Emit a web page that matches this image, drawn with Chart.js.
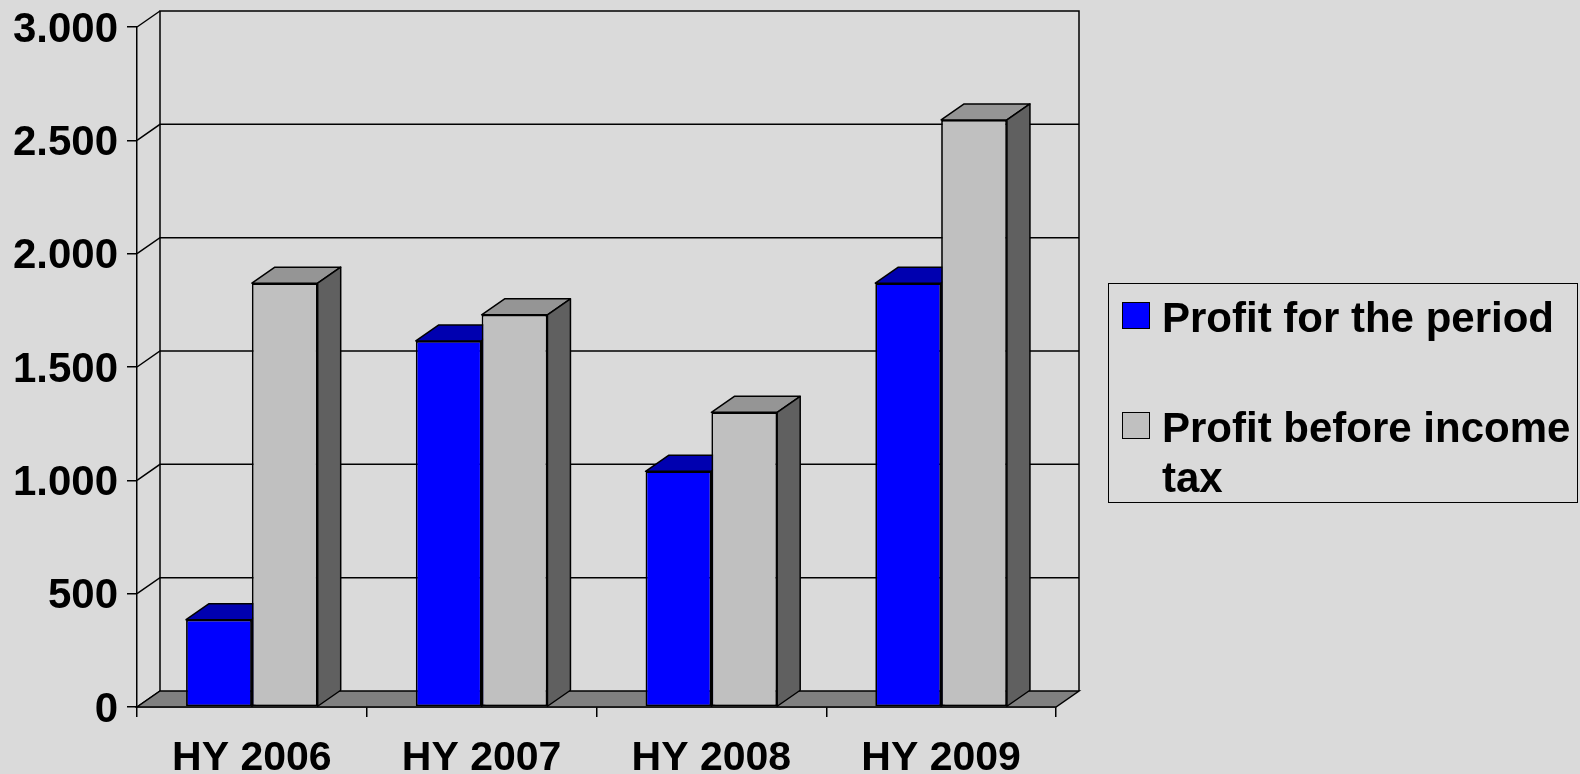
<!DOCTYPE html>
<html>
<head>
<meta charset="utf-8">
<script src="https://cdn.jsdelivr.net/npm/chart.js@4"></script>
<style>
  html, body { margin: 0; padding: 0; background: #dadada; }
  #wrap { position: relative; width: 1580px; height: 774px; }
  #legend {
    position: absolute; left: 1108px; top: 283px; width: 468px; height: 218px;
    border: 1.5px solid #000; font: bold 42px 'Liberation Sans', Arial, sans-serif; color: #000;
  }
  .item { position: absolute; left: 0; }
  .sw { position: absolute; left: 13px; width: 26px; height: 25px; border: 1.5px solid #000; }
  .txt { position: absolute; left: 53px; width: 414px; line-height: 50px; }
</style>
</head>
<body>
<div id="wrap">
  <canvas id="c" width="1580" height="774"></canvas>
  <div id="legend"></div>
</div>
<script>
const categories = ['HY 2006', 'HY 2007', 'HY 2008', 'HY 2009'];
const profitPeriod = [385, 1615, 1040, 1870];
const profitBeforeTax = [1870, 1730, 1300, 2590];
const seriesNames = ['Profit for the period', 'Profit before income tax'];
const yTicks = [0, 500, 1000, 1500, 2000, 2500, 3000];
const yTickLabels = ['0', '500', '1.000', '1.500', '2.000', '2.500', '3.000'];

const FONT = "'Liberation Sans', Arial, sans-serif";
const DX = 23, DY = 16;
const faces = [
  { front: '#0000ff', top: '#0000b0', side: '#000080' },
  { front: '#c0c0c0', top: '#959595', side: '#606060' }
];

function poly(ctx, pts, fill) {
  ctx.beginPath();
  ctx.moveTo(pts[0][0], pts[0][1]);
  for (let i = 1; i < pts.length; i++) ctx.lineTo(pts[i][0], pts[i][1]);
  ctx.closePath();
  if (fill) { ctx.fillStyle = fill; ctx.fill(); }
  ctx.stroke();
}

const box3d = {
  id: 'box3d',
  beforeDatasetsDraw(chart) {
    const ctx = chart.ctx, a = chart.chartArea, y = chart.scales.y;
    ctx.save();
    ctx.strokeStyle = '#000';
    ctx.lineWidth = 1.5;
    // back wall + grid
    ctx.beginPath();
    ctx.moveTo(a.left + DX, a.bottom - DY);
    ctx.lineTo(a.left + DX, a.top - DY);
    ctx.lineTo(a.right + DX, a.top - DY);
    ctx.lineTo(a.right + DX, a.bottom - DY);
    ctx.stroke();
    yTicks.forEach(v => {
      const py = y.getPixelForValue(v);
      ctx.beginPath();
      ctx.moveTo(a.left, py);
      ctx.lineTo(a.left + DX, py - DY);
      if (v > 0 && v < 3000) ctx.lineTo(a.right + DX, py - DY);
      ctx.stroke();
    });
    // floor
    poly(ctx, [[a.left, a.bottom], [a.right, a.bottom], [a.right + DX, a.bottom - DY], [a.left + DX, a.bottom - DY]], '#808080');
    ctx.restore();
  },
  // bars are drawn below, series by series, so the front faces hide the sides correctly
  beforeDatasetDraw() { return false; },
  afterDatasetsDraw(chart) {
    const ctx = chart.ctx;
    ctx.save();
    ctx.lineJoin = 'round';
    chart.data.datasets.forEach((ds, di) => {
      const f = faces[di];
      chart.getDatasetMeta(di).data.forEach(bar => {
        bar.draw(ctx);
        const x0 = bar.x - bar.width / 2, x1 = bar.x + bar.width / 2;
        const t = bar.y, b = bar.base;
        ctx.strokeStyle = '#000';
        ctx.lineWidth = 1.5;
        poly(ctx, [[x0, t], [x1, t], [x1 + DX, t - DY], [x0 + DX, t - DY]], f.top);
        poly(ctx, [[x1, t], [x1 + DX, t - DY], [x1 + DX, b - DY], [x1, b]], f.side);
      });
    });
    ctx.restore();
  }
};

new Chart(document.getElementById('c'), {
  type: 'bar',
  data: {
    labels: categories,
    datasets: [
      { label: seriesNames[0], data: profitPeriod, backgroundColor: faces[0].front },
      { label: seriesNames[1], data: profitBeforeTax, backgroundColor: faces[1].front }
    ]
  },
  options: {
    responsive: false,
    animation: false,
    devicePixelRatio: 1,
    layout: { padding: { left: 0, top: 27, right: 524, bottom: 0 } },
    datasets: {
      bar: {
        categoryPercentage: 0.573, barPercentage: 1.0,
        borderColor: '#000', borderWidth: 1.75, borderSkipped: false
      }
    },
    plugins: { legend: { display: false }, tooltip: { enabled: false } },
    scales: {
      x: {
        grid: { drawOnChartArea: false, drawTicks: true, tickLength: 10, color: '#000', lineWidth: 1.5 },
        border: { display: true, color: '#000', width: 1.5 },
        ticks: { color: '#000', padding: 17, font: { family: FONT, size: 41, weight: 'bold' } },
        afterFit(s) { s.height = 67; s.paddingLeft = 0; s.paddingRight = 0; }
      },
      y: {
        min: 0, max: 3000,
        afterBuildTicks(s) { s.ticks = yTicks.map(v => ({ value: v })); },
        grid: { drawOnChartArea: false, drawTicks: true, tickLength: 10, color: '#000', lineWidth: 1.5 },
        border: { display: true, color: '#000', width: 1.5 },
        ticks: {
          color: '#000', padding: 9, labelOffset: 3, font: { family: FONT, size: 42, weight: 'bold' },
          callback: (v, i) => yTickLabels[i]
        },
        afterFit(s) { s.width = 137; s.paddingTop = 0; s.paddingBottom = 0; }
      }
    }
  },
  plugins: [box3d]
});

// legend
const lg = document.getElementById('legend');
const tops = [[18, 9], [128, 119]];
seriesNames.forEach((name, i) => {
  const it = document.createElement('div');
  it.className = 'item';
  it.innerHTML = `<div class="sw" style="top:${tops[i][0]}px;background:${faces[i].front}"></div>` +
    `<div class="txt" style="top:${tops[i][1]}px">${name}</div>`;
  lg.appendChild(it);
});
</script>
</body>
</html>
